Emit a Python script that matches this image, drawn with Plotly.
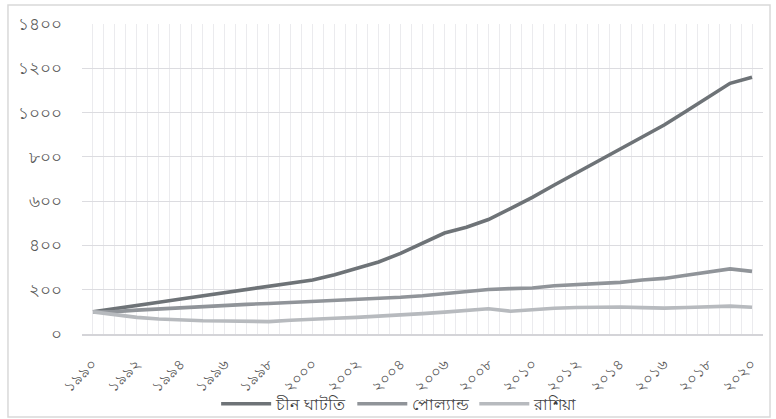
import plotly.graph_objects as go

years = list(range(1990, 2021))

china = [100, 113, 128, 143, 158, 173, 187, 200, 215, 230, 244, 268, 295, 325, 364,
         408, 456, 482, 517, 566, 617, 673, 727, 781, 835, 890, 944, 1006, 1070, 1132, 1159]
poland = [100, 101, 108, 114, 119, 123, 128, 134, 138, 143, 145, 149, 154, 159, 166,
          173, 182, 192, 201, 205, 208, 218, 223, 226, 233, 244, 251, 265, 279, 294, 283]
russia = [100, 86, 75, 68, 63, 60, 59, 59, 56, 62, 68, 71, 75, 80, 86,
          92, 99, 108, 114, 103, 111, 116, 120, 123, 122, 119, 117, 120, 123, 126, 121]

series_names = ["চীন ঘাটতি", "পোল্যান্ড", "রাশিয়া"]
series_colors = ["#6e7377", "#909499", "#b7babe"]

BN = str.maketrans("0123456789", "০১২৩৪৫৬৭৮৯")

x_tick_vals = list(range(1990, 2021, 2))
x_tick_text = [str(v).translate(BN) for v in x_tick_vals]
y_tick_vals = list(range(0, 1401, 200))
y_tick_text = [str(v).translate(BN) for v in y_tick_vals]

fig = go.Figure()
for name, vals, col in zip(series_names, [china, poland, russia], series_colors):
    fig.add_trace(go.Scatter(x=years, y=vals, name=name, mode="lines",
                             line=dict(color=col, width=3.6)))

grid = "#ebebee"
fig.update_layout(
    width=776, height=419,
    margin=dict(l=82, r=13, t=24, b=85, autoexpand=False),
    paper_bgcolor="white", plot_bgcolor="white",
    font=dict(family="Noto Sans, DejaVu Sans, sans-serif", color="#595959", size=15),
    showlegend=True,
    legend=dict(orientation="h", x=0.515, xanchor="center", xref="container",
                y=0.036, yanchor="middle", yref="container",
                bgcolor="rgba(0,0,0,0)",
                font=dict(size=16, color="#404040"), itemwidth=50,
                traceorder="normal"),
    xaxis=dict(range=[1989.5, 2020.5], tickmode="array", tickvals=x_tick_vals,
               ticktext=x_tick_text, tickangle=-45, showgrid=True, gridcolor=grid,
               gridwidth=1, zeroline=False, showline=True, linecolor="#d4d4d8",
               linewidth=1.5, ticks="outside", ticklen=13, tickcolor="rgba(0,0,0,0)",
               automargin=False,
               tickfont=dict(size=15, color="#595959"),
               minor=dict(dtick=0.5, tick0=1989.5, showgrid=True, gridcolor=grid,
                          gridwidth=1)),
    yaxis=dict(range=[0, 1400], tickmode="array", tickvals=y_tick_vals,
               ticktext=y_tick_text, showgrid=True, gridcolor="#dcdce0", gridwidth=1,
               zeroline=False, ticks="outside", ticklen=16, tickcolor="rgba(0,0,0,0)",
               automargin=False,
               tickfont=dict(size=17, color="#595959")),
    shapes=[dict(type="rect", xref="paper", yref="paper",
                 x0=-0.1087, x1=1.0103, y0=-0.2677, y1=1.0613,
                 line=dict(color="#d9d9d9", width=1.5), fillcolor="rgba(0,0,0,0)",
                 layer="below")],
)

fig.write_html("out.html")
